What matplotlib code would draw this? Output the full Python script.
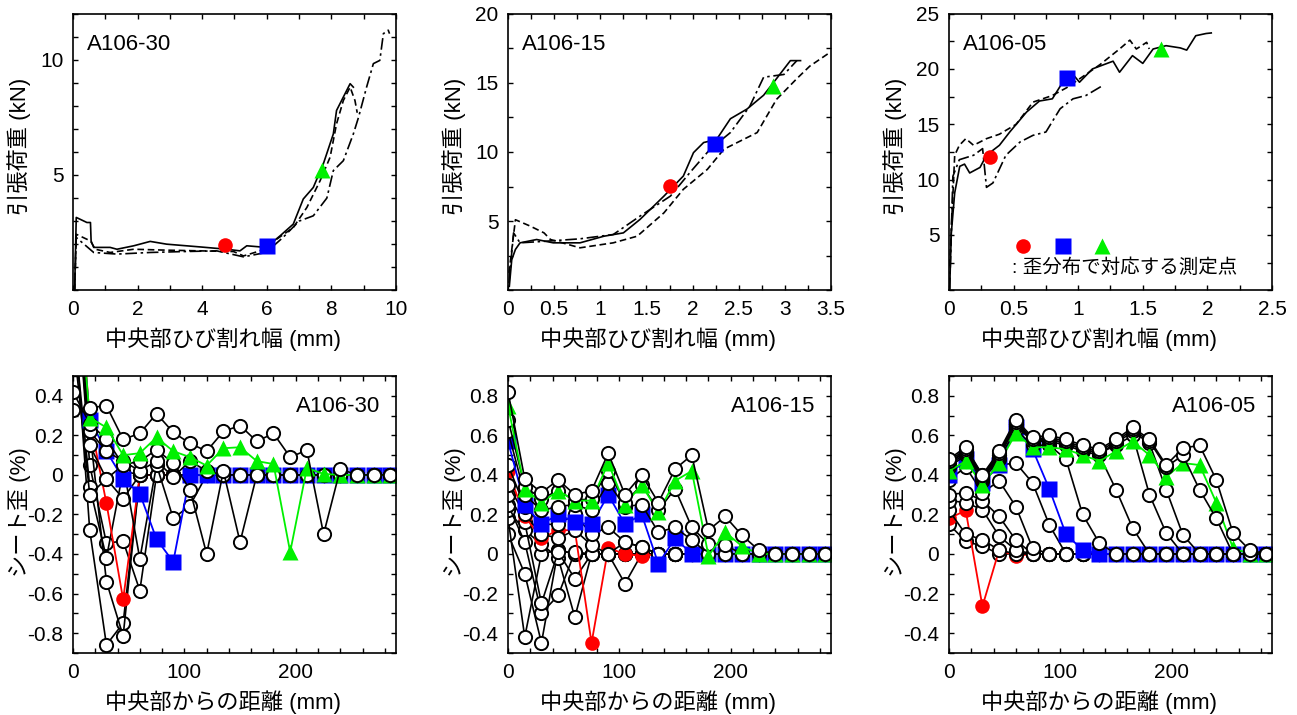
import matplotlib
matplotlib.use("Agg")
import matplotlib.pyplot as plt
import matplotlib.ticker as ticker
import numpy as np

plt.rcParams["font.family"] = ["Liberation Sans", "Noto Sans CJK JP"]

RED = "#FF0000"
BLUE = "#0000FF"
GREEN = "#00F000"

# ---------------- top row: load vs crack width ----------------
NAMES = ["A106-30", "A106-15", "A106-05"]

# A106-30
W30_SOLID = [0.05, 0.1, 0.43, 0.54, 0.56, 0.64, 1.15, 1.36, 1.88, 2.39, 2.9, 3.94, 4.76, 5.17, 5.38, 5.98,
             6.41, 6.82, 7.13, 7.44, 7.75, 8.06, 8.16, 8.37, 8.58, 8.68]
P30_SOLID = [0.0, 3.16, 2.94, 2.94, 2.14, 1.86, 1.86, 1.78, 1.93, 2.12, 2.0, 1.88, 1.78, 1.71, 1.93, 1.86,
             2.36, 2.87, 3.96, 4.46, 5.48, 6.78, 7.8, 8.38, 8.96, 8.81]
W30_DASH = [0.05, 0.1, 0.54, 0.69, 1.15, 1.88, 2.9, 3.94, 4.97, 5.28, 5.79, 6.31, 6.82, 7.24, 7.65, 7.96,
            8.16, 8.37, 8.58, 8.73, 8.8]
P30_DASH = [0.0, 2.43, 2.14, 1.78, 1.64, 1.78, 1.74, 1.71, 1.68, 1.49, 1.71, 2.22, 2.72, 3.59, 4.75, 5.77,
            7.22, 8.23, 8.81, 8.23, 7.7]
W30_DOT = [0.05, 0.1, 0.64, 1.36, 2.39, 3.42, 4.45, 5.28, 5.98, 6.5, 7.0, 7.44, 7.86, 8.06, 8.37, 8.68,
           8.84, 9.09, 9.3, 9.5, 9.61, 9.76, 9.8]
P30_DOT = [0.0, 2.29, 1.64, 1.57, 1.64, 1.68, 1.71, 1.45, 1.64, 2.29, 3.0, 3.23, 4.0, 5.19, 5.62, 6.78,
           7.5, 8.81, 9.83, 9.97, 11.13, 11.28, 11.13]

# A106-15
W15_SOLID = [0.014, 0.04, 0.08, 0.13, 0.31, 0.49, 0.78, 1.04, 1.25, 1.43, 1.69, 1.9, 2.01, 2.12, 2.26,
             2.41, 2.59, 2.77, 2.91, 3.06, 3.17]
P15_SOLID = [0.29, 2.2, 2.95, 3.43, 3.67, 3.43, 3.43, 3.91, 4.15, 5.12, 6.81, 8.26, 9.95, 10.68, 10.9,
             12.4, 13.1, 14.1, 15.3, 16.6, 16.6]
W15_DASH = [0.01, 0.08, 0.24, 0.39, 0.46, 0.78, 1.14, 1.4, 1.69, 1.9, 2.16, 2.34, 2.55, 2.7, 2.91, 3.13,
            3.27, 3.49]
P15_DASH = [1.26, 5.1, 4.64, 4.15, 3.67, 3.07, 3.43, 3.91, 5.6, 7.3, 8.74, 10.2, 10.9, 11.4, 13.8, 15.3,
            16.2, 17.2]
W15_DOT = [0.01, 0.06, 0.13, 0.42, 0.78, 1.14, 1.43, 1.76, 1.97, 2.19, 2.41, 2.62, 2.77, 2.88, 2.99, 3.13]
P15_DOT = [0.53, 4.15, 3.43, 3.55, 3.72, 4.03, 5.36, 6.81, 8.5, 10.2, 11.4, 13.3, 15.4, 15.5, 15.6, 16.6]

# A106-05
W05_SOLID = [0.005, 0.018, 0.044, 0.083, 0.12, 0.16, 0.24, 0.29, 0.39, 0.47, 0.6, 0.7, 0.8, 0.88, 0.96,
             1.01, 1.11, 1.27, 1.32, 1.42, 1.5, 1.58, 1.68, 1.79, 1.84, 1.91, 1.99, 2.03]
P05_SOLID = [0.1, 5.2, 8.8, 11.2, 11.4, 10.6, 11.1, 12.2, 13.1, 14.3, 16.1, 17.1, 17.3, 18.8, 19.5,
             18.8, 20.0, 20.7, 19.7, 21.2, 20.5, 21.8, 22.1, 21.9, 21.7, 23.0, 23.2, 23.25]
W05_DASH = [0.005, 0.044, 0.08, 0.13, 0.19, 0.29, 0.39, 0.52, 0.65, 0.8, 0.91, 1.01, 1.17, 1.32, 1.4,
            1.45, 1.53, 1.55]
P05_DASH = [2.2, 12.2, 13.1, 13.7, 13.1, 13.7, 14.1, 15.0, 17.0, 17.6, 18.3, 19.1, 20.4, 21.8, 22.6,
            21.8, 22.4, 21.8]
W05_DOT = [0.005, 0.03, 0.08, 0.19, 0.26, 0.29, 0.34, 0.44, 0.55, 0.65, 0.75, 0.86, 0.96, 1.06, 1.19]
P05_DOT = [0.1, 10.3, 11.8, 12.2, 12.8, 9.3, 9.7, 12.2, 13.4, 14.0, 14.3, 16.4, 17.3, 17.6, 18.5]

TOP_CURVES = [
    [(W30_SOLID, P30_SOLID), (W30_DASH, P30_DASH), (W30_DOT, P30_DOT)],
    [(W15_SOLID, P15_SOLID), (W15_DASH, P15_DASH), (W15_DOT, P15_DOT)],
    [(W05_SOLID, P05_SOLID), (W05_DASH, P05_DASH), (W05_DOT, P05_DOT)],
]

# measurement points (crack width, load): red, blue, green
PT_RED = [(4.7, 1.95), (1.76, 7.55), (0.32, 12.0)]
PT_BLUE = [(6.0, 1.9), (2.24, 10.6), (0.91, 19.2)]
PT_GREEN = [(7.72, 5.2), (2.87, 14.8), (1.64, 21.8)]

TOP_XLIM = [10, 3.5, 2.5]
TOP_YLIM = [12, 20, 25]
TOP_XMAJ = [2, 0.5, 0.5]
TOP_XMIN = [1, 0.25, 0.25]
TOP_YTICKS = [[5, 10], [5, 10, 15, 20], [5, 10, 15, 20, 25]]
TOP_YMIN = [1, 2.5, 2.5]

# ---------------- bottom row: sheet strain distribution ----------------
DIST = [0, 15, 30, 45, 60, 75, 90, 105, 120, 135, 150, 165, 180, 195, 210, 225, 240, 255, 270, 285]
N = None

# A106-30  (kind, values)
S30 = [
    ("k", [1.2, 0.05, -0.345, -0.335, -0.585, 0, 0, 0, 0, 0, 0, 0, 0, 0, 0, 0, 0, 0, 0, 0]),
    ("k", [0.9, -0.28, -0.86, -0.75, 0, 0, 0, 0, 0, 0, 0, 0, 0, 0, 0, 0, 0, 0, 0, 0]),
    ("k", [1.0, N, -0.54, -0.815, 0, 0, 0, 0, 0, 0, 0, 0, 0, 0, 0, 0, 0, 0, 0, 0]),
    ("k", [0.8, -0.06, -0.42, 0.02, 0, 0, 0, 0, 0, 0, 0, 0, 0, 0, 0, 0, 0, 0, 0, 0]),
    ("r", [1.4, 0.28, -0.143, -0.63, 0.0, 0, 0, 0, 0, 0, 0, 0, 0, 0, 0, 0, 0, 0, 0, 0]),
    ("k", [0.7, -0.10, -0.02, -0.12, 0, 0, 0, 0, 0, 0, 0, 0, 0, 0, 0, 0, 0, 0, 0, 0]),
    ("k", [1.1, 0.15, -0.02, 0.05, -0.425, 0.05, -0.22, -0.155, 0, 0, 0, 0, 0, 0, 0, 0, 0, 0, 0, 0]),
    ("b", [1.3, 0.28, 0.12, -0.02, -0.095, -0.325, -0.44, 0, 0, 0, 0, 0, 0, 0, 0, 0, 0, 0, 0, 0]),
    ("k", [1.2, 0.22, 0.12, 0.07, 0.02, 0.07, -0.01, 0.07, 0.02, 0, 0, 0, 0, 0, 0, 0, 0, 0, 0, 0]),
    ("k", [0.42, 0.26, 0.18, 0.05, 0.07, 0.127, 0.06, -0.075, -0.40, 0.02, -0.34, 0, 0, 0, 0, 0, 0, 0, 0, 0]),
    ("g", [1.3, 0.29, 0.24, 0.10, 0.11, 0.19, 0.12, 0.09, 0.047, 0.135, 0.14, 0.07, 0.055, -0.39, 0.035,
           0.005, 0, 0, 0, 0]),
    ("k", [0.33, 0.34, 0.35, 0.18, 0.21, 0.31, 0.215, 0.16, 0.12, 0.22, 0.25, 0.17, 0.21, 0.09, 0.125,
           -0.30, 0.03, 0, 0, 0]),
]

# A106-15
S15 = [
    ("k", [0.10, -0.10, -0.45, 0.02, 0, 0, 0, 0, 0, 0, 0, 0, 0, 0, 0, 0, 0, 0, 0, 0]),
    ("k", [0.18, -0.42, 0.0, 0.02, 0, 0, 0, 0, 0, 0, 0, 0, 0, 0, 0, 0, 0, 0, 0, 0]),
    ("k", [0.22, 0.12, 0.05, -0.02, -0.32, 0, 0, 0, 0, 0, 0, 0, 0, 0, 0, 0, 0, 0, 0, 0]),
    ("k", [0.25, 0.06, -0.30, -0.21, 0.01, 0, 0, 0, 0, 0, 0, 0, 0, 0, 0, 0, 0, 0, 0, 0]),
    ("k", [0.30, 0.16, -0.25, 0.01, -0.125, 0, 0, -0.15, 0, 0, 0, 0, 0, 0, 0, 0, 0, 0, 0, 0]),
    ("r", [0.42, 0.19, 0.08, 0.12, 0.12, -0.45, 0.03, 0.0, -0.01, 0, 0, 0, 0, 0, 0, 0, 0, 0, 0, 0]),
    ("k", [0.35, 0.20, 0.10, 0.08, 0.12, 0.045, 0.0, 0.06, 0.035, 0, 0, 0, 0, 0, 0, 0, 0, 0, 0, 0]),
    ("k", [0.45, 0.24, 0.15, 0.15, 0.20, 0.10, 0.135, 0.06, 0.035, 0, 0, 0, 0, 0, 0, 0, 0, 0, 0, 0]),
    ("b", [0.57, 0.25, 0.15, 0.20, 0.16, 0.15, 0.30, 0.15, 0.20, -0.05, 0.08, 0, 0, 0, 0, 0, 0, 0, 0, 0]),
    ("k", [0.62, 0.30, 0.22, 0.24, 0.25, 0.22, 0.36, 0.24, 0.25, 0.11, 0.135, 0.07, 0, 0, 0, 0, 0, 0, 0, 0]),
    ("k", [0.68, 0.34, 0.28, 0.32, 0.27, 0.28, 0.42, 0.26, 0.35, 0.22, 0.33, 0.135, 0.05, 0.045, 0, 0, 0,
           0, 0, 0]),
    ("g", [0.75, 0.33, 0.26, 0.32, 0.27, 0.27, 0.46, 0.25, 0.35, 0.21, 0.37, 0.42, -0.01, 0.11, 0.04, 0,
           0, 0, 0, 0]),
    ("k", [0.82, 0.38, 0.31, 0.375, 0.30, 0.32, 0.51, 0.30, 0.40, 0.26, 0.43, 0.50, 0.12, 0.19, 0.095,
           0.02, 0, 0, 0, 0]),
]

# A106-05
S05 = [
    ("k", [0.15, 0.064, 0.04, 0, 0, 0, 0, 0, 0, 0, 0, 0, 0, 0, 0, 0, 0, 0, 0, 0]),
    ("r", [0.18, 0.22, -0.265, 0.02, -0.01, 0, 0, 0, 0, 0, 0, 0, 0, 0, 0, 0, 0, 0, 0, 0]),
    ("k", [0.22, 0.10, 0.072, 0.02, 0, 0, 0, 0, 0, 0, 0, 0, 0, 0, 0, 0, 0, 0, 0, 0]),
    ("k", [0.27, 0.26, 0.224, 0.09, 0.02, 0, 0, 0, 0, 0, 0, 0, 0, 0, 0, 0, 0, 0, 0, 0]),
    ("k", [0.30, 0.31, 0.27, 0.19, 0.07, 0, 0, 0, 0, 0, 0, 0, 0, 0, 0, 0, 0, 0, 0, 0]),
    ("k", [0.375, 0.44, 0.31, 0.37, 0.24, 0.03, 0, 0, 0, 0, 0, 0, 0, 0, 0, 0, 0, 0, 0, 0]),
    ("k", [0.41, 0.47, 0.36, 0.45, 0.46, 0.36, 0.148, 0, 0, 0, 0, 0, 0, 0, 0, 0, 0, 0, 0, 0]),
    ("b", [0.40, 0.48, 0.36, 0.45, 0.64, 0.53, 0.33, 0.10, 0.02, 0, 0, 0, 0, 0, 0, 0, 0, 0, 0, 0]),
    ("k", [0.44, 0.50, 0.37, 0.48, 0.63, 0.55, 0.55, 0.48, 0.20, 0.055, 0, 0, 0, 0, 0, 0, 0, 0, 0, 0]),
    ("k", [0.45, 0.51, 0.38, 0.49, 0.65, 0.57, 0.57, 0.55, 0.52, 0.50, 0.325, 0.13, 0, 0, 0, 0, 0, 0, 0, 0]),
    ("k", [0.46, 0.52, 0.39, 0.50, 0.66, 0.58, 0.58, 0.56, 0.53, 0.51, 0.55, 0.60, 0.30, 0.106, 0, 0, 0,
           0, 0, 0]),
    ("k", [0.46, 0.52, 0.39, 0.50, 0.66, 0.57, 0.58, 0.56, 0.53, 0.51, 0.56, 0.62, 0.56, 0.325, 0.097, 0,
           0, 0, 0, 0]),
    ("g", [0.42, 0.47, 0.35, 0.46, 0.61, 0.54, 0.54, 0.53, 0.50, 0.47, 0.52, 0.57, 0.50, 0.39, 0.46, 0.45,
           0.26, 0.03, 0, 0]),
    ("k", [0.47, 0.53, 0.40, 0.51, 0.67, 0.58, 0.59, 0.57, 0.54, 0.52, 0.57, 0.63, 0.57, 0.44, 0.50, 0.325,
           0.18, 0, 0, 0]),
    ("k", [0.48, 0.54, 0.40, 0.52, 0.68, 0.59, 0.60, 0.58, 0.55, 0.53, 0.58, 0.64, 0.58, 0.45, 0.535, 0.55,
           0.375, 0.106, 0.02, 0]),
]

BOT_SERIES = [S30, S15, S05]
BOT_YLIM = [(-0.9, 0.5), (-0.5, 0.9), (-0.5, 0.9)]
BOT_YTICKS = [[-0.8, -0.6, -0.4, -0.2, 0, 0.2, 0.4], [-0.4, -0.2, 0, 0.2, 0.4, 0.6, 0.8],
              [-0.4, -0.2, 0, 0.2, 0.4, 0.6, 0.8]]

LEGEND_TEXT = ": 歪分布で対応する測定点"

fig = plt.figure(figsize=(12.97, 7.15), dpi=100)
fig.patch.set_facecolor("white")

LEFTS = [0.0563, 0.3917, 0.7317]
W, H = 0.249, 0.387
fmt = ticker.FuncFormatter(lambda v, _: f"{v:g}")


def style(ax):
    for s in ax.spines.values():
        s.set_linewidth(1.2)
    ax.tick_params(which="both", direction="in", top=True, right=True, length=3.8, width=1.0,
                   labelsize=15, pad=7)
    ax.xaxis.set_major_formatter(fmt)
    ax.yaxis.set_major_formatter(fmt)


line_styles = ["-", (0, (4, 2.2)), (0, (7, 2.2, 1.5, 2.2))]

for i in range(3):
    ax = fig.add_axes([LEFTS[i], 0.594, W, H])
    for (xs, ys), ls in zip(TOP_CURVES[i], line_styles):
        ax.plot(xs, ys, color="black", lw=1.2, ls=ls)
    ax.plot(*PT_RED[i], "o", color=RED, ms=10.5, mec="none")
    ax.plot(*PT_BLUE[i], "s", color=BLUE, ms=11, mec="none")
    ax.plot(*PT_GREEN[i], "^", color=GREEN, ms=12, mec="none")
    ax.set_xlim(0, TOP_XLIM[i])
    ax.set_ylim(0, TOP_YLIM[i])
    ax.xaxis.set_major_locator(ticker.MultipleLocator(TOP_XMAJ[i]))
    ax.xaxis.set_minor_locator(ticker.MultipleLocator(TOP_XMIN[i]))
    ax.yaxis.set_major_locator(ticker.FixedLocator(TOP_YTICKS[i]))
    ax.yaxis.set_minor_locator(ticker.MultipleLocator(TOP_YMIN[i]))
    style(ax)
    ax.set_xlabel("中央部ひび割れ幅 (mm)", fontsize=16)
    ax.set_ylabel("引張荷重 (kN)", fontsize=16)
    ax.xaxis.set_label_coords(0.465, -0.135)
    ax.yaxis.set_label_coords(-0.13, 0.52)
    ax.text(0.043, 0.89, NAMES[i], transform=ax.transAxes, fontsize=16, ha="left", va="center")
    if i == 2:
        ax.plot(0.229, 0.16, "o", color=RED, ms=10.5, mec="none", transform=ax.transAxes)
        ax.plot(0.352, 0.16, "s", color=BLUE, ms=11, mec="none", transform=ax.transAxes)
        ax.plot(0.473, 0.16, "^", color=GREEN, ms=12, mec="none", transform=ax.transAxes)
        ax.text(0.194, 0.083, LEGEND_TEXT, transform=ax.transAxes, fontsize=14, ha="left", va="center")

colors = {"r": RED, "b": BLUE, "g": GREEN}
markers = {"r": "o", "b": "s", "g": "^"}
msizes = {"r": 10.5, "b": 11, "g": 12}

for i in range(3):
    ax = fig.add_axes([LEFTS[i], 0.087, W, H])
    x_all = np.array(DIST, dtype=float)
    for z, (kind, vals) in enumerate(BOT_SERIES[i]):
        y = np.array([np.nan if v is None else v for v in vals], dtype=float)
        ok = ~np.isnan(y)
        if kind == "k":
            ax.plot(x_all[ok], y[ok], "-o", color="black", lw=1.2, ms=9.5, mfc="white", mec="black",
                    mew=1.4, zorder=2 + z * 0.01)
        else:
            ax.plot(x_all[ok], y[ok], "-", color=colors[kind], lw=1.3, zorder=2 + z * 0.01)
            ax.plot(x_all[ok], y[ok], markers[kind], color=colors[kind], ms=msizes[kind], mec="none",
                    zorder=2 + z * 0.01)
    ax.set_xlim(0, 290)
    ax.set_ylim(*BOT_YLIM[i])
    ax.xaxis.set_major_locator(ticker.FixedLocator([0, 100, 200]))
    ax.xaxis.set_minor_locator(ticker.MultipleLocator(20))
    ax.yaxis.set_major_locator(ticker.FixedLocator(BOT_YTICKS[i]))
    ax.yaxis.set_minor_locator(ticker.MultipleLocator(0.1))
    style(ax)
    ax.set_xlabel("中央部からの距離 (mm)", fontsize=16)
    ax.set_ylabel("シート歪 (%)", fontsize=16)
    ax.xaxis.set_label_coords(0.465, -0.135)
    ax.yaxis.set_label_coords(-0.13, 0.51)
    ax.text(0.95, 0.89, NAMES[i], transform=ax.transAxes, fontsize=16, ha="right", va="center",
            zorder=10)

fig.savefig("out.png", dpi=100, facecolor="white")
